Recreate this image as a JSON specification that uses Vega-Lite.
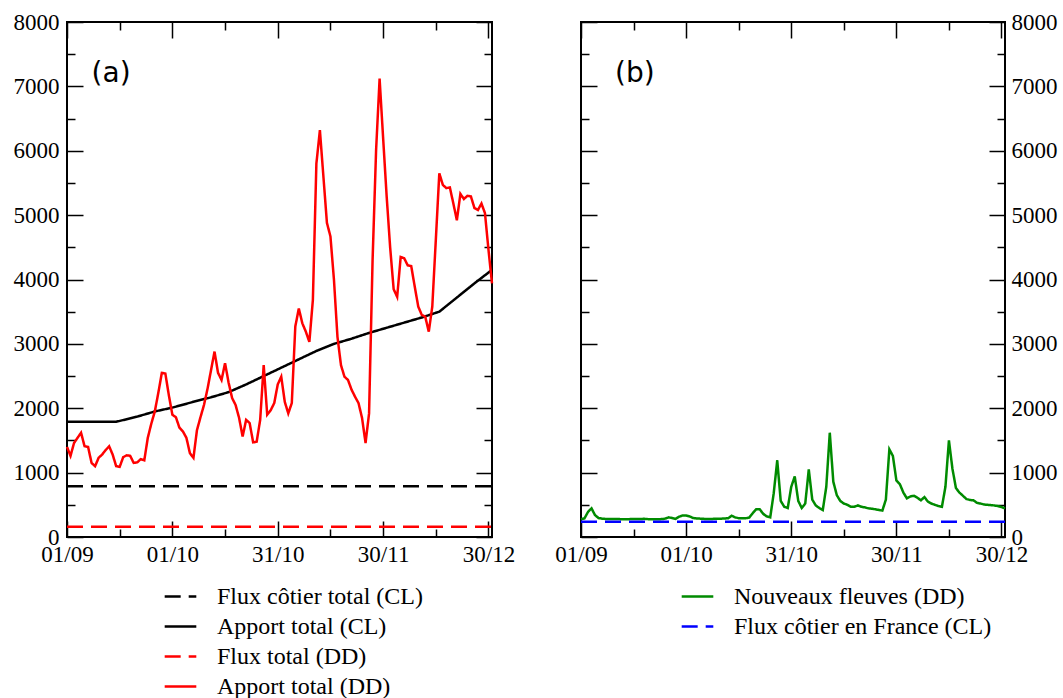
{
  "$schema": "https://vega.github.io/schema/vega-lite/v6.json",
  "padding": {"left": 12, "top": 10, "right": 0, "bottom": 0},
  "background": "white",
  "config": {
    "view": {"stroke": "#000", "strokeWidth": 2},
    "axis": {"grid": false, "domain": false, "title": null, "labelFont": "Liberation Serif", "labelFontSize": 23, "labelColor": "#000", "tickColor": "#000", "tickWidth": 1.5, "labelOverlap": false, "labelFlush": false, "minExtent": 0},
    "legend": {"title": null, "labelFont": "Liberation Serif", "labelFontSize": 24, "labelColor": "#000", "labelLimit": 0, "symbolType": "stroke", "symbolSize": 1000, "symbolStrokeWidth": 2.5, "labelOffset": 19, "rowPadding": 0}
  },
  "datasets": {
    "left": [
      {"s": "Flux côtier total (CL)", "d": 0, "v": 790}, {"s": "Flux côtier total (CL)", "d": 121, "v": 790},
      {"s": "Flux total (DD)", "d": 0, "v": 160}, {"s": "Flux total (DD)", "d": 121, "v": 160},
      {"s": "Apport total (CL)", "d": 0, "v": 1790}, {"s": "Apport total (CL)", "d": 7, "v": 1790}, {"s": "Apport total (CL)", "d": 14, "v": 1790},
      {"s": "Apport total (CL)", "d": 20, "v": 1870}, {"s": "Apport total (CL)", "d": 25, "v": 1950}, {"s": "Apport total (CL)", "d": 30, "v": 2010},
      {"s": "Apport total (CL)", "d": 36, "v": 2100}, {"s": "Apport total (CL)", "d": 41, "v": 2170}, {"s": "Apport total (CL)", "d": 46, "v": 2250},
      {"s": "Apport total (CL)", "d": 51, "v": 2370}, {"s": "Apport total (CL)", "d": 56, "v": 2500}, {"s": "Apport total (CL)", "d": 61, "v": 2630},
      {"s": "Apport total (CL)", "d": 66, "v": 2760}, {"s": "Apport total (CL)", "d": 71, "v": 2890}, {"s": "Apport total (CL)", "d": 76, "v": 3000},
      {"s": "Apport total (CL)", "d": 81, "v": 3080}, {"s": "Apport total (CL)", "d": 86, "v": 3170}, {"s": "Apport total (CL)", "d": 91, "v": 3250},
      {"s": "Apport total (CL)", "d": 96, "v": 3330}, {"s": "Apport total (CL)", "d": 101, "v": 3410}, {"s": "Apport total (CL)", "d": 106, "v": 3500},
      {"s": "Apport total (CL)", "d": 111, "v": 3720}, {"s": "Apport total (CL)", "d": 116, "v": 3940}, {"s": "Apport total (CL)", "d": 121, "v": 4150},
      {"s": "Apport total (DD)", "d": 0, "v": 1400}, {"s": "Apport total (DD)", "d": 1, "v": 1260}, {"s": "Apport total (DD)", "d": 2, "v": 1460},
      {"s": "Apport total (DD)", "d": 3, "v": 1540}, {"s": "Apport total (DD)", "d": 4, "v": 1620}, {"s": "Apport total (DD)", "d": 5, "v": 1410},
      {"s": "Apport total (DD)", "d": 6, "v": 1400}, {"s": "Apport total (DD)", "d": 7, "v": 1150}, {"s": "Apport total (DD)", "d": 8, "v": 1100},
      {"s": "Apport total (DD)", "d": 9, "v": 1230}, {"s": "Apport total (DD)", "d": 10, "v": 1280}, {"s": "Apport total (DD)", "d": 11, "v": 1350},
      {"s": "Apport total (DD)", "d": 12, "v": 1410}, {"s": "Apport total (DD)", "d": 13, "v": 1280}, {"s": "Apport total (DD)", "d": 14, "v": 1100},
      {"s": "Apport total (DD)", "d": 15, "v": 1090}, {"s": "Apport total (DD)", "d": 16, "v": 1240}, {"s": "Apport total (DD)", "d": 17, "v": 1270},
      {"s": "Apport total (DD)", "d": 18, "v": 1260}, {"s": "Apport total (DD)", "d": 19, "v": 1150}, {"s": "Apport total (DD)", "d": 20, "v": 1160},
      {"s": "Apport total (DD)", "d": 21, "v": 1210}, {"s": "Apport total (DD)", "d": 22, "v": 1190}, {"s": "Apport total (DD)", "d": 23, "v": 1540},
      {"s": "Apport total (DD)", "d": 24, "v": 1760}, {"s": "Apport total (DD)", "d": 25, "v": 1950}, {"s": "Apport total (DD)", "d": 26, "v": 2240},
      {"s": "Apport total (DD)", "d": 27, "v": 2550}, {"s": "Apport total (DD)", "d": 28, "v": 2540}, {"s": "Apport total (DD)", "d": 29, "v": 2200},
      {"s": "Apport total (DD)", "d": 30, "v": 1900}, {"s": "Apport total (DD)", "d": 31, "v": 1860}, {"s": "Apport total (DD)", "d": 32, "v": 1700},
      {"s": "Apport total (DD)", "d": 33, "v": 1640}, {"s": "Apport total (DD)", "d": 34, "v": 1540}, {"s": "Apport total (DD)", "d": 35, "v": 1300},
      {"s": "Apport total (DD)", "d": 36, "v": 1230}, {"s": "Apport total (DD)", "d": 37, "v": 1660}, {"s": "Apport total (DD)", "d": 38, "v": 1860},
      {"s": "Apport total (DD)", "d": 39, "v": 2050}, {"s": "Apport total (DD)", "d": 40, "v": 2300}, {"s": "Apport total (DD)", "d": 41, "v": 2590},
      {"s": "Apport total (DD)", "d": 42, "v": 2880}, {"s": "Apport total (DD)", "d": 43, "v": 2550}, {"s": "Apport total (DD)", "d": 44, "v": 2440},
      {"s": "Apport total (DD)", "d": 45, "v": 2700}, {"s": "Apport total (DD)", "d": 46, "v": 2400}, {"s": "Apport total (DD)", "d": 47, "v": 2160},
      {"s": "Apport total (DD)", "d": 48, "v": 2050}, {"s": "Apport total (DD)", "d": 49, "v": 1850}, {"s": "Apport total (DD)", "d": 50, "v": 1560},
      {"s": "Apport total (DD)", "d": 51, "v": 1820}, {"s": "Apport total (DD)", "d": 52, "v": 1770}, {"s": "Apport total (DD)", "d": 53, "v": 1470},
      {"s": "Apport total (DD)", "d": 54, "v": 1480}, {"s": "Apport total (DD)", "d": 55, "v": 1820}, {"s": "Apport total (DD)", "d": 56, "v": 2670},
      {"s": "Apport total (DD)", "d": 57, "v": 1900}, {"s": "Apport total (DD)", "d": 58, "v": 1970}, {"s": "Apport total (DD)", "d": 59, "v": 2080},
      {"s": "Apport total (DD)", "d": 60, "v": 2370}, {"s": "Apport total (DD)", "d": 61, "v": 2490}, {"s": "Apport total (DD)", "d": 62, "v": 2100},
      {"s": "Apport total (DD)", "d": 63, "v": 1920}, {"s": "Apport total (DD)", "d": 64, "v": 2080}, {"s": "Apport total (DD)", "d": 65, "v": 3270},
      {"s": "Apport total (DD)", "d": 66, "v": 3550}, {"s": "Apport total (DD)", "d": 67, "v": 3320}, {"s": "Apport total (DD)", "d": 68, "v": 3190},
      {"s": "Apport total (DD)", "d": 69, "v": 3030}, {"s": "Apport total (DD)", "d": 70, "v": 3680}, {"s": "Apport total (DD)", "d": 71, "v": 5800},
      {"s": "Apport total (DD)", "d": 72, "v": 6320}, {"s": "Apport total (DD)", "d": 73, "v": 5600}, {"s": "Apport total (DD)", "d": 74, "v": 4880},
      {"s": "Apport total (DD)", "d": 75, "v": 4670}, {"s": "Apport total (DD)", "d": 76, "v": 4000}, {"s": "Apport total (DD)", "d": 77, "v": 3110},
      {"s": "Apport total (DD)", "d": 78, "v": 2670}, {"s": "Apport total (DD)", "d": 79, "v": 2490}, {"s": "Apport total (DD)", "d": 80, "v": 2440},
      {"s": "Apport total (DD)", "d": 81, "v": 2290}, {"s": "Apport total (DD)", "d": 82, "v": 2180}, {"s": "Apport total (DD)", "d": 83, "v": 2080},
      {"s": "Apport total (DD)", "d": 84, "v": 1850}, {"s": "Apport total (DD)", "d": 85, "v": 1460}, {"s": "Apport total (DD)", "d": 86, "v": 1920},
      {"s": "Apport total (DD)", "d": 87, "v": 4300}, {"s": "Apport total (DD)", "d": 88, "v": 6010}, {"s": "Apport total (DD)", "d": 89, "v": 7120},
      {"s": "Apport total (DD)", "d": 90, "v": 6200}, {"s": "Apport total (DD)", "d": 91, "v": 5300}, {"s": "Apport total (DD)", "d": 92, "v": 4500},
      {"s": "Apport total (DD)", "d": 93, "v": 3850}, {"s": "Apport total (DD)", "d": 94, "v": 3730}, {"s": "Apport total (DD)", "d": 95, "v": 4350},
      {"s": "Apport total (DD)", "d": 96, "v": 4330}, {"s": "Apport total (DD)", "d": 97, "v": 4220}, {"s": "Apport total (DD)", "d": 98, "v": 4210},
      {"s": "Apport total (DD)", "d": 99, "v": 3890}, {"s": "Apport total (DD)", "d": 100, "v": 3580}, {"s": "Apport total (DD)", "d": 101, "v": 3450},
      {"s": "Apport total (DD)", "d": 102, "v": 3420}, {"s": "Apport total (DD)", "d": 103, "v": 3190}, {"s": "Apport total (DD)", "d": 104, "v": 3580},
      {"s": "Apport total (DD)", "d": 105, "v": 4610}, {"s": "Apport total (DD)", "d": 106, "v": 5650}, {"s": "Apport total (DD)", "d": 107, "v": 5470},
      {"s": "Apport total (DD)", "d": 108, "v": 5420}, {"s": "Apport total (DD)", "d": 109, "v": 5430}, {"s": "Apport total (DD)", "d": 110, "v": 5180},
      {"s": "Apport total (DD)", "d": 111, "v": 4920}, {"s": "Apport total (DD)", "d": 112, "v": 5330}, {"s": "Apport total (DD)", "d": 113, "v": 5250},
      {"s": "Apport total (DD)", "d": 114, "v": 5300}, {"s": "Apport total (DD)", "d": 115, "v": 5290}, {"s": "Apport total (DD)", "d": 116, "v": 5110},
      {"s": "Apport total (DD)", "d": 117, "v": 5080}, {"s": "Apport total (DD)", "d": 118, "v": 5180}, {"s": "Apport total (DD)", "d": 119, "v": 5030},
      {"s": "Apport total (DD)", "d": 120, "v": 4460}, {"s": "Apport total (DD)", "d": 121, "v": 3940}
    ],
    "right": [
      {"s": "Flux côtier en France (CL)", "d": 0, "v": 235}, {"s": "Flux côtier en France (CL)", "d": 121, "v": 235},
      {"s": "Nouveaux fleuves (DD)", "d": 0, "v": 275}, {"s": "Nouveaux fleuves (DD)", "d": 1, "v": 290}, {"s": "Nouveaux fleuves (DD)", "d": 2, "v": 390},
      {"s": "Nouveaux fleuves (DD)", "d": 3, "v": 445}, {"s": "Nouveaux fleuves (DD)", "d": 4, "v": 340}, {"s": "Nouveaux fleuves (DD)", "d": 5, "v": 295},
      {"s": "Nouveaux fleuves (DD)", "d": 6, "v": 285}, {"s": "Nouveaux fleuves (DD)", "d": 7, "v": 280}, {"s": "Nouveaux fleuves (DD)", "d": 8, "v": 280},
      {"s": "Nouveaux fleuves (DD)", "d": 9, "v": 278}, {"s": "Nouveaux fleuves (DD)", "d": 10, "v": 280}, {"s": "Nouveaux fleuves (DD)", "d": 11, "v": 278},
      {"s": "Nouveaux fleuves (DD)", "d": 12, "v": 276}, {"s": "Nouveaux fleuves (DD)", "d": 13, "v": 275}, {"s": "Nouveaux fleuves (DD)", "d": 14, "v": 278},
      {"s": "Nouveaux fleuves (DD)", "d": 15, "v": 280}, {"s": "Nouveaux fleuves (DD)", "d": 16, "v": 278}, {"s": "Nouveaux fleuves (DD)", "d": 17, "v": 280},
      {"s": "Nouveaux fleuves (DD)", "d": 18, "v": 282}, {"s": "Nouveaux fleuves (DD)", "d": 19, "v": 278}, {"s": "Nouveaux fleuves (DD)", "d": 20, "v": 276},
      {"s": "Nouveaux fleuves (DD)", "d": 21, "v": 275}, {"s": "Nouveaux fleuves (DD)", "d": 22, "v": 275}, {"s": "Nouveaux fleuves (DD)", "d": 23, "v": 278},
      {"s": "Nouveaux fleuves (DD)", "d": 24, "v": 285}, {"s": "Nouveaux fleuves (DD)", "d": 25, "v": 305}, {"s": "Nouveaux fleuves (DD)", "d": 26, "v": 295},
      {"s": "Nouveaux fleuves (DD)", "d": 27, "v": 282}, {"s": "Nouveaux fleuves (DD)", "d": 28, "v": 315}, {"s": "Nouveaux fleuves (DD)", "d": 29, "v": 335},
      {"s": "Nouveaux fleuves (DD)", "d": 30, "v": 335}, {"s": "Nouveaux fleuves (DD)", "d": 31, "v": 320}, {"s": "Nouveaux fleuves (DD)", "d": 32, "v": 295},
      {"s": "Nouveaux fleuves (DD)", "d": 33, "v": 288}, {"s": "Nouveaux fleuves (DD)", "d": 34, "v": 285}, {"s": "Nouveaux fleuves (DD)", "d": 35, "v": 282},
      {"s": "Nouveaux fleuves (DD)", "d": 36, "v": 280}, {"s": "Nouveaux fleuves (DD)", "d": 37, "v": 280}, {"s": "Nouveaux fleuves (DD)", "d": 38, "v": 282},
      {"s": "Nouveaux fleuves (DD)", "d": 39, "v": 285}, {"s": "Nouveaux fleuves (DD)", "d": 40, "v": 285}, {"s": "Nouveaux fleuves (DD)", "d": 41, "v": 288},
      {"s": "Nouveaux fleuves (DD)", "d": 42, "v": 292}, {"s": "Nouveaux fleuves (DD)", "d": 43, "v": 330}, {"s": "Nouveaux fleuves (DD)", "d": 44, "v": 305},
      {"s": "Nouveaux fleuves (DD)", "d": 45, "v": 292}, {"s": "Nouveaux fleuves (DD)", "d": 46, "v": 290}, {"s": "Nouveaux fleuves (DD)", "d": 47, "v": 292},
      {"s": "Nouveaux fleuves (DD)", "d": 48, "v": 300}, {"s": "Nouveaux fleuves (DD)", "d": 49, "v": 370}, {"s": "Nouveaux fleuves (DD)", "d": 50, "v": 430},
      {"s": "Nouveaux fleuves (DD)", "d": 51, "v": 430}, {"s": "Nouveaux fleuves (DD)", "d": 52, "v": 360}, {"s": "Nouveaux fleuves (DD)", "d": 53, "v": 320},
      {"s": "Nouveaux fleuves (DD)", "d": 54, "v": 305}, {"s": "Nouveaux fleuves (DD)", "d": 55, "v": 680}, {"s": "Nouveaux fleuves (DD)", "d": 56, "v": 1190},
      {"s": "Nouveaux fleuves (DD)", "d": 57, "v": 560}, {"s": "Nouveaux fleuves (DD)", "d": 58, "v": 470}, {"s": "Nouveaux fleuves (DD)", "d": 59, "v": 450},
      {"s": "Nouveaux fleuves (DD)", "d": 60, "v": 780}, {"s": "Nouveaux fleuves (DD)", "d": 61, "v": 940}, {"s": "Nouveaux fleuves (DD)", "d": 62, "v": 560},
      {"s": "Nouveaux fleuves (DD)", "d": 63, "v": 450}, {"s": "Nouveaux fleuves (DD)", "d": 64, "v": 520}, {"s": "Nouveaux fleuves (DD)", "d": 65, "v": 1050},
      {"s": "Nouveaux fleuves (DD)", "d": 66, "v": 580}, {"s": "Nouveaux fleuves (DD)", "d": 67, "v": 490}, {"s": "Nouveaux fleuves (DD)", "d": 68, "v": 450},
      {"s": "Nouveaux fleuves (DD)", "d": 69, "v": 420}, {"s": "Nouveaux fleuves (DD)", "d": 70, "v": 780}, {"s": "Nouveaux fleuves (DD)", "d": 71, "v": 1620},
      {"s": "Nouveaux fleuves (DD)", "d": 72, "v": 860}, {"s": "Nouveaux fleuves (DD)", "d": 73, "v": 650}, {"s": "Nouveaux fleuves (DD)", "d": 74, "v": 560},
      {"s": "Nouveaux fleuves (DD)", "d": 75, "v": 520}, {"s": "Nouveaux fleuves (DD)", "d": 76, "v": 500}, {"s": "Nouveaux fleuves (DD)", "d": 77, "v": 470},
      {"s": "Nouveaux fleuves (DD)", "d": 78, "v": 470}, {"s": "Nouveaux fleuves (DD)", "d": 79, "v": 490}, {"s": "Nouveaux fleuves (DD)", "d": 80, "v": 470},
      {"s": "Nouveaux fleuves (DD)", "d": 81, "v": 460}, {"s": "Nouveaux fleuves (DD)", "d": 82, "v": 445}, {"s": "Nouveaux fleuves (DD)", "d": 83, "v": 440},
      {"s": "Nouveaux fleuves (DD)", "d": 84, "v": 430}, {"s": "Nouveaux fleuves (DD)", "d": 85, "v": 420}, {"s": "Nouveaux fleuves (DD)", "d": 86, "v": 410},
      {"s": "Nouveaux fleuves (DD)", "d": 87, "v": 580}, {"s": "Nouveaux fleuves (DD)", "d": 88, "v": 1360}, {"s": "Nouveaux fleuves (DD)", "d": 89, "v": 1260},
      {"s": "Nouveaux fleuves (DD)", "d": 90, "v": 880}, {"s": "Nouveaux fleuves (DD)", "d": 91, "v": 820}, {"s": "Nouveaux fleuves (DD)", "d": 92, "v": 690},
      {"s": "Nouveaux fleuves (DD)", "d": 93, "v": 600}, {"s": "Nouveaux fleuves (DD)", "d": 94, "v": 630}, {"s": "Nouveaux fleuves (DD)", "d": 95, "v": 640},
      {"s": "Nouveaux fleuves (DD)", "d": 96, "v": 610}, {"s": "Nouveaux fleuves (DD)", "d": 97, "v": 570}, {"s": "Nouveaux fleuves (DD)", "d": 98, "v": 620},
      {"s": "Nouveaux fleuves (DD)", "d": 99, "v": 550}, {"s": "Nouveaux fleuves (DD)", "d": 100, "v": 520}, {"s": "Nouveaux fleuves (DD)", "d": 101, "v": 500},
      {"s": "Nouveaux fleuves (DD)", "d": 102, "v": 480}, {"s": "Nouveaux fleuves (DD)", "d": 103, "v": 470}, {"s": "Nouveaux fleuves (DD)", "d": 104, "v": 780},
      {"s": "Nouveaux fleuves (DD)", "d": 105, "v": 1500}, {"s": "Nouveaux fleuves (DD)", "d": 106, "v": 1060}, {"s": "Nouveaux fleuves (DD)", "d": 107, "v": 760},
      {"s": "Nouveaux fleuves (DD)", "d": 108, "v": 690}, {"s": "Nouveaux fleuves (DD)", "d": 109, "v": 640}, {"s": "Nouveaux fleuves (DD)", "d": 110, "v": 590},
      {"s": "Nouveaux fleuves (DD)", "d": 111, "v": 575}, {"s": "Nouveaux fleuves (DD)", "d": 112, "v": 570}, {"s": "Nouveaux fleuves (DD)", "d": 113, "v": 530},
      {"s": "Nouveaux fleuves (DD)", "d": 114, "v": 520}, {"s": "Nouveaux fleuves (DD)", "d": 115, "v": 505}, {"s": "Nouveaux fleuves (DD)", "d": 116, "v": 500},
      {"s": "Nouveaux fleuves (DD)", "d": 117, "v": 495}, {"s": "Nouveaux fleuves (DD)", "d": 118, "v": 490}, {"s": "Nouveaux fleuves (DD)", "d": 119, "v": 480},
      {"s": "Nouveaux fleuves (DD)", "d": 120, "v": 465}, {"s": "Nouveaux fleuves (DD)", "d": 121, "v": 445}
    ]
  },
  "spacing": 37,
  "hconcat": [
    {
      "width": 425,
      "height": 515,
      "layer": [
        {
          "data": {"name": "left"},
          "transform": [{"filter": "datum.s === 'Apport total (CL)' || datum.s === 'Apport total (DD)'"}],
          "mark": {"type": "line", "strokeWidth": 2.5},
          "encoding": {
            "x": {"field": "d", "type": "quantitative", "scale": {"domain": [0, 121], "nice": false, "zero": false},
              "axis": {"orient": "bottom", "values": [0, 15, 30, 45, 60, 75, 90, 105, 120],
                "labelExpr": "datum.value === 0 ? '01/09' : datum.value === 30 ? '01/10' : datum.value === 60 ? '31/10' : datum.value === 90 ? '30/11' : datum.value === 120 ? '30/12' : ''",
                "tickSize": {"condition": {"test": "datum.value % 30 === 0", "value": -16}, "value": -8},
                "labelPadding": 22}},
            "y": {"field": "v", "type": "quantitative", "scale": {"domain": [0, 8000], "nice": false},
              "axis": {"orient": "left", "values": [0, 500, 1000, 1500, 2000, 2500, 3000, 3500, 4000, 4500, 5000, 5500, 6000, 6500, 7000, 7500, 8000],
                "format": "d", "labelExpr": "datum.value % 1000 === 0 ? datum.label : ''",
                "tickSize": {"condition": {"test": "datum.value % 1000 === 0", "value": -16}, "value": -8},
                "labelPadding": 24}},
            "color": {"field": "s", "type": "nominal",
              "scale": {"domain": ["Flux côtier total (CL)", "Apport total (CL)", "Flux total (DD)", "Apport total (DD)"], "range": ["#000000", "#000000", "#ff0000", "#ff0000"]},
              "legend": {"orient": "none", "legendX": 96, "legendY": 557}},
            "strokeDash": {"field": "s", "type": "nominal",
              "scale": {"domain": ["Flux côtier total (CL)", "Apport total (CL)", "Flux total (DD)", "Apport total (DD)"], "range": [[16, 8], [1, 0], [16, 8], [1, 0]]},
              "legend": {"orient": "none", "legendX": 96, "legendY": 557}}
          }
        },
        {
          "data": {"name": "left"},
          "transform": [{"filter": "datum.s === 'Flux côtier total (CL)' || datum.s === 'Flux total (DD)'"}],
          "mark": {"type": "line", "strokeWidth": 2.5},
          "encoding": {
            "x": {"field": "d", "type": "quantitative",
              "axis": {"orient": "top", "labels": false, "values": [0, 15, 30, 45, 60, 75, 90, 105, 120],
                "tickSize": {"condition": {"test": "datum.value % 30 === 0", "value": -16}, "value": -8}}},
            "y": {"field": "v", "type": "quantitative",
              "axis": {"orient": "right", "labels": false, "values": [0, 500, 1000, 1500, 2000, 2500, 3000, 3500, 4000, 4500, 5000, 5500, 6000, 6500, 7000, 7500, 8000],
                "tickSize": {"condition": {"test": "datum.value % 1000 === 0", "value": -16}, "value": -8}}},
            "color": {"field": "s", "type": "nominal"},
            "strokeDash": {"field": "s", "type": "nominal"}
          }
        },
        {
          "data": {"values": [{"label": "(a)"}]},
          "mark": {"type": "text", "font": "DejaVu Sans", "fontSize": 28, "align": "left", "baseline": "middle", "color": "#000"},
          "encoding": {
            "x": {"datum": 7, "type": "quantitative", "axis": null},
            "y": {"datum": 7200, "type": "quantitative", "axis": null},
            "text": {"field": "label"}
          }
        }
      ],
      "resolve": {"axis": {"x": "independent", "y": "independent"}}
    },
    {
      "width": 424,
      "height": 515,
      "layer": [
        {
          "data": {"name": "right"},
          "transform": [{"filter": "datum.s === 'Nouveaux fleuves (DD)'"}],
          "mark": {"type": "line", "strokeWidth": 2.5},
          "encoding": {
            "x": {"field": "d", "type": "quantitative", "scale": {"domain": [0, 121], "nice": false, "zero": false},
              "axis": {"orient": "bottom", "values": [0, 15, 30, 45, 60, 75, 90, 105, 120],
                "labelExpr": "datum.value === 0 ? '01/09' : datum.value === 30 ? '01/10' : datum.value === 60 ? '31/10' : datum.value === 90 ? '30/11' : datum.value === 120 ? '30/12' : ''",
                "tickSize": {"condition": {"test": "datum.value % 30 === 0", "value": -16}, "value": -8},
                "labelPadding": 22}},
            "y": {"field": "v", "type": "quantitative", "scale": {"domain": [0, 8000], "nice": false},
              "axis": {"orient": "right", "values": [0, 500, 1000, 1500, 2000, 2500, 3000, 3500, 4000, 4500, 5000, 5500, 6000, 6500, 7000, 7500, 8000],
                "format": "d", "labelExpr": "datum.value % 1000 === 0 ? datum.label : ''",
                "tickSize": {"condition": {"test": "datum.value % 1000 === 0", "value": -16}, "value": -8},
                "labelPadding": 22}},
            "color": {"field": "s", "type": "nominal",
              "scale": {"domain": ["Nouveaux fleuves (DD)", "Flux côtier en France (CL)"], "range": ["#008b00", "#0000ff"]},
              "legend": {"orient": "none", "legendX": 99, "legendY": 557}},
            "strokeDash": {"field": "s", "type": "nominal",
              "scale": {"domain": ["Nouveaux fleuves (DD)", "Flux côtier en France (CL)"], "range": [[1, 0], [16, 8]]},
              "legend": {"orient": "none", "legendX": 99, "legendY": 557}}
          }
        },
        {
          "data": {"name": "right"},
          "transform": [{"filter": "datum.s === 'Flux côtier en France (CL)'"}],
          "mark": {"type": "line", "strokeWidth": 2.5},
          "encoding": {
            "x": {"field": "d", "type": "quantitative",
              "axis": {"orient": "top", "labels": false, "values": [0, 15, 30, 45, 60, 75, 90, 105, 120],
                "tickSize": {"condition": {"test": "datum.value % 30 === 0", "value": -16}, "value": -8}}},
            "y": {"field": "v", "type": "quantitative",
              "axis": {"orient": "left", "labels": false, "values": [0, 500, 1000, 1500, 2000, 2500, 3000, 3500, 4000, 4500, 5000, 5500, 6000, 6500, 7000, 7500, 8000],
                "tickSize": {"condition": {"test": "datum.value % 1000 === 0", "value": -16}, "value": -8}}},
            "color": {"field": "s", "type": "nominal"},
            "strokeDash": {"field": "s", "type": "nominal"}
          }
        },
        {
          "data": {"values": [{"label": "(b)"}]},
          "mark": {"type": "text", "font": "DejaVu Sans", "fontSize": 28, "align": "left", "baseline": "middle", "color": "#000"},
          "encoding": {
            "x": {"datum": 9.7, "type": "quantitative", "axis": null},
            "y": {"datum": 7200, "type": "quantitative", "axis": null},
            "text": {"field": "label"}
          }
        }
      ],
      "resolve": {"axis": {"x": "independent", "y": "independent"}}
    }
  ],
  "resolve": {"scale": {"color": "independent", "strokeDash": "independent"}, "legend": {"color": "independent", "strokeDash": "independent"}}
}
